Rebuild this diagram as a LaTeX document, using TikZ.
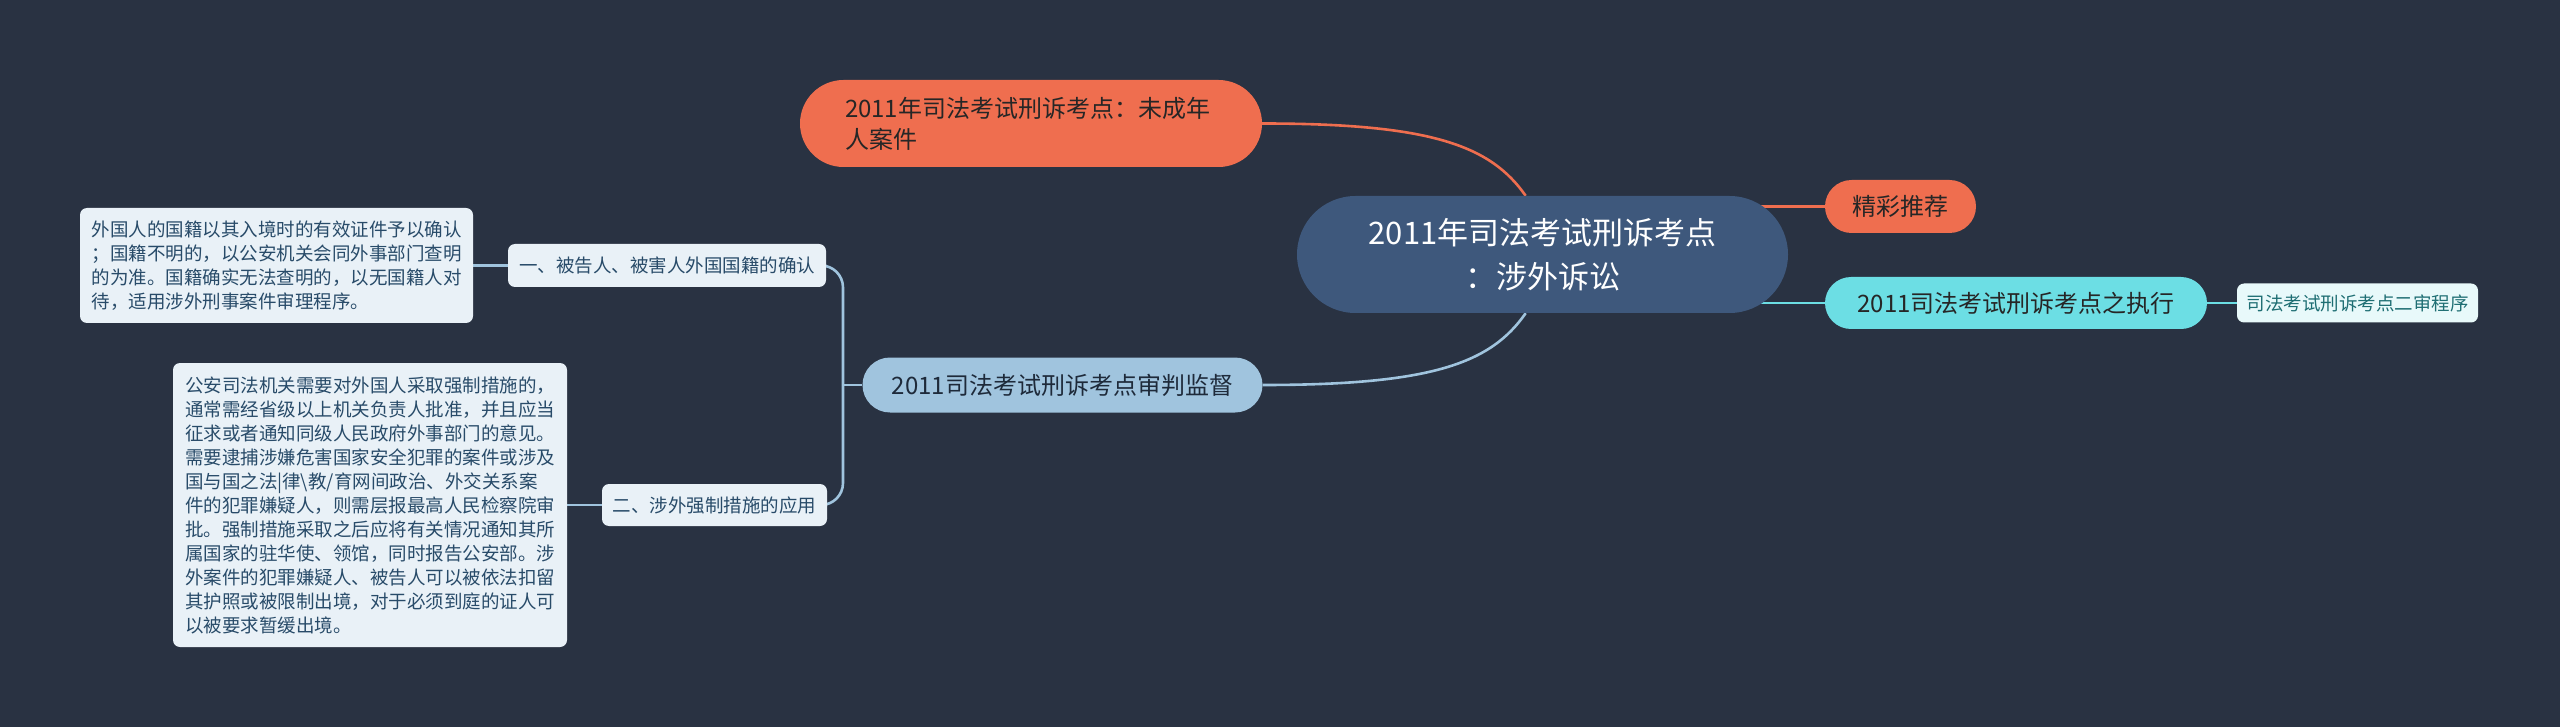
\documentclass[tikz,border=0pt]{standalone}
\usepackage{fontspec}
\newfontfamily\cjk{Noto Sans CJK SC}
\usepackage{tikz}
\usetikzlibrary{backgrounds,calc}
\definecolor{bgc}{HTML}{293242}
\definecolor{rootc}{HTML}{3E587C}
\definecolor{orc}{HTML}{EF6E4F}
\definecolor{cyc}{HTML}{6CDEE4}
\definecolor{blc}{HTML}{A0C4DE}
\definecolor{leafc}{HTML}{E9F1F7}
\definecolor{leaftxt}{HTML}{284B69}
\definecolor{lcyc}{HTML}{E8F9FA}
\definecolor{tealtxt}{HTML}{1E6E73}
\definecolor{darktxt}{HTML}{262626}
\definecolor{navytxt}{HTML}{1E2A3A}

\begin{document}
\begin{tikzpicture}[x=1pt,y=-1pt,
  root/.style={fill=rootc,text=white,inner sep=0pt,align=center,
    font=\cjk\fontsize{31}{44}\selectfont,minimum width=491pt,minimum height=117pt,rounded corners=58.5pt},
  topic/.style={text=darktxt,inner sep=0pt,font=\cjk\fontsize{24}{31}\selectfont},
  leaf/.style={fill=leafc,text=leaftxt,inner sep=0pt,rounded corners=7pt,
    font=\cjk\fontsize{18.5}{24}\selectfont},
  link/.style={line width=2.6pt}]
\node[root] (main) at (1542.5,254.5) {2011年司法考试刑诉考点\\：涉外诉讼};
\node[topic,fill=orc,minimum width=462pt,minimum height=87pt,rounded corners=43.5pt,
  text width=372pt,align=left] (top) at (1031,123.5) {2011年司法考试刑诉考点：未成年\\人案件};
\node[topic,fill=orc,minimum width=151pt,minimum height=53pt,rounded corners=26.5pt] (good) at (1900.5,206.5) {精彩推荐};
\node[topic,fill=cyc,minimum width=382pt,minimum height=52pt,rounded corners=26pt] (exec) at (2016,303) {2011司法考试刑诉考点之执行};
\node[leaf,fill=lcyc,text=tealtxt,minimum width=241pt,minimum height=39pt] (second) at (2357.5,303) {司法考试刑诉考点二审程序};
\node[topic,fill=blc,text=navytxt,minimum width=400pt,minimum height=55pt,rounded corners=27.5pt] (review) at (1062.5,385) {2011司法考试刑诉考点审判监督};
\node[leaf,minimum width=318pt,minimum height=43pt] (n1) at (667,265.5) {一、被告人、被害人外国国籍的确认};
\node[leaf,minimum width=225pt,minimum height=42pt] (n2) at (714.5,505) {二、涉外强制措施的应用};
\node[leaf,align=left,minimum width=393pt,minimum height=115pt] (box1) at (276.5,265.5) {外国人的国籍以其入境时的有效证件予以确认\\；国籍不明的，以公安机关会同外事部门查明\\的为准。国籍确实无法查明的，以无国籍人对\\待，适用涉外刑事案件审理程序。};
\node[leaf,align=left,minimum width=394pt,minimum height=284pt] (box2) at (370,505) {公安司法机关需要对外国人采取强制措施的，\\通常需经省级以上机关负责人批准，并且应当\\征求或者通知同级人民政府外事部门的意见。\\需要逮捕涉嫌危害国家安全犯罪的案件或涉及\\国与国之法|律\textbackslash 教/育网间政治、外交关系案\\件的犯罪嫌疑人，则需层报最高人民检察院审\\批。强制措施采取之后应将有关情况通知其所\\属国家的驻华使、领馆，同时报告公安部。涉\\外案件的犯罪嫌疑人、被告人可以被依法扣留\\其护照或被限制出境，对于必须到庭的证人可\\以被要求暂缓出境。};
\coordinate (fork) at (843,385);
\begin{scope}[on background layer]
\fill[bgc] (0,0) rectangle (2560,727);
\draw[link,orc] (top.east) .. controls +(170,0) and +(-35,-50) .. (main.106);
\draw[link,blc] (review.east) .. controls +(170,0) and +(-35,50) .. (main.254);
\draw[link,orc] (good.west) -- (good.west -| main.center);
\draw[link,cyc] (exec.west) -- (exec.west -| main.center);
\draw[link,cyc] (exec.east) -- (second.west);
\draw[link,blc] (review.west) -- (fork);
\draw[link,blc,rounded corners=22pt] (n1.east) -| (fork) |- (n2.east);
\draw[link,blc] (box1.east) -- (n1.west);
\draw[link,blc] (box2.east) -- (n2.west);
\end{scope}
\end{tikzpicture}
\end{document}
